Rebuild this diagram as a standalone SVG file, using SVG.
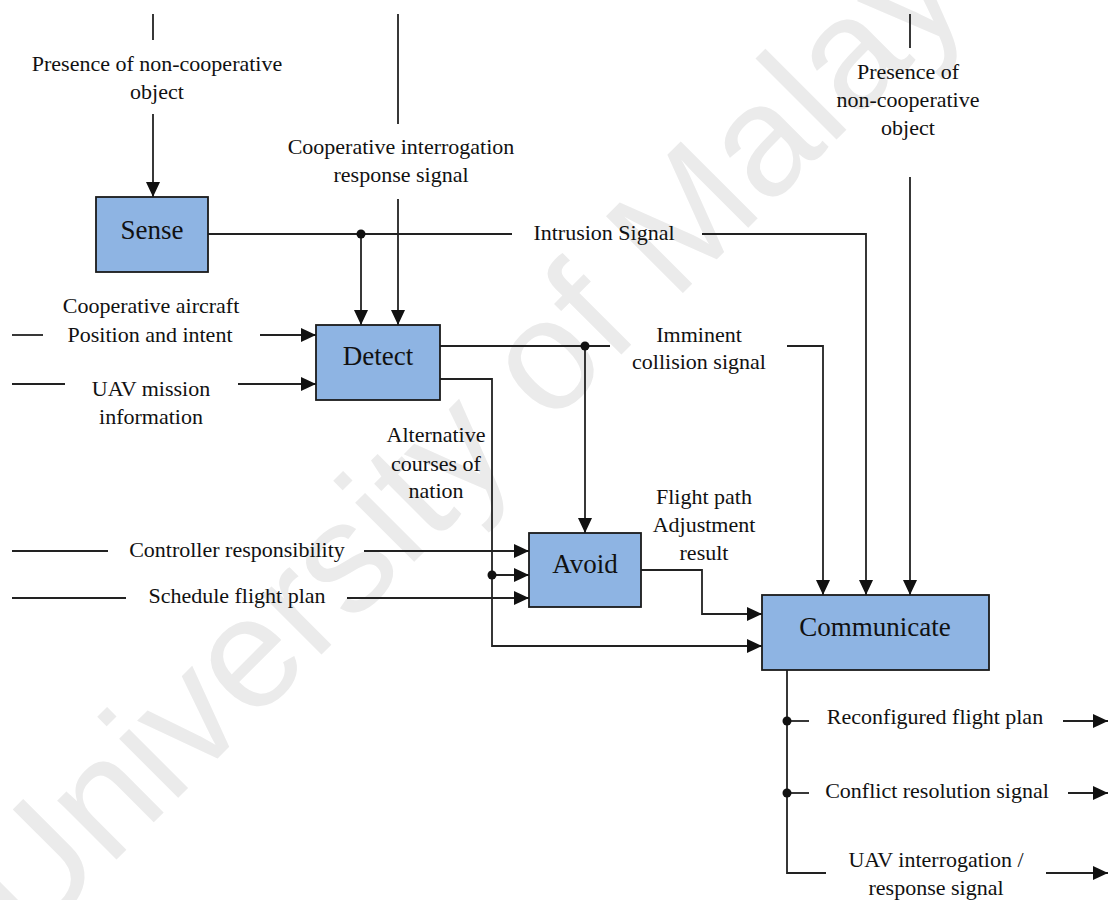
<svg xmlns="http://www.w3.org/2000/svg" width="1114" height="900" viewBox="0 0 1114 900">
  <defs>
    <marker id="arrow" markerUnits="userSpaceOnUse" markerWidth="15" markerHeight="14" refX="15" refY="7" orient="auto">
      <path d="M0,0 L15,7 L0,14 Z" fill="#111"/>
    </marker>
  </defs>
  <style>
    .bg { fill: #ffffff; }
    .wm { font-family: "Liberation Sans", Arial, sans-serif; font-size: 158px; fill: #ebebeb; }
    .box { fill: #8eb4e3; stroke: #1a1a1a; stroke-width: 1.8; }
    .title { font-family: "Liberation Serif", "Times New Roman", serif; font-size: 27px; fill: #111; text-anchor: middle; }
    .lbl { font-family: "Liberation Serif", "Times New Roman", serif; font-size: 22px; fill: #111; text-anchor: middle; }
    .ln { fill: none; stroke: #222; stroke-width: 1.8; }
    .arr { marker-end: url(#arrow); }
    .dot { fill: #111; }
  </style>

  <rect class="bg" x="0" y="0" width="1114" height="900"/>

  <!-- faint background watermark -->
  <text class="wm" x="28" y="948" transform="rotate(-45 28 948)">University of Malaya</text>

  <!-- connectors -->
  <g id="connectors">
    <!-- non-cooperative object into Sense -->
    <path class="ln" d="M153,14 V40"/>
    <path class="ln arr" d="M153,114 V197"/>
    <!-- cooperative interrogation response into Detect -->
    <path class="ln" d="M398,14 V124"/>
    <path class="ln arr" d="M398,199 V325"/>
    <!-- intrusion signal -->
    <path class="ln" d="M208,234 H512"/>
    <path class="ln arr" d="M361,234 V325"/>
    <path class="ln arr" d="M702,234 H866 V595"/>
    <circle class="dot" cx="361" cy="234" r="4.5"/>
    <!-- non-cooperative object into Communicate -->
    <path class="ln" d="M910,14 V48"/>
    <path class="ln arr" d="M910,177 V595"/>
    <!-- inputs to Detect -->
    <path class="ln" d="M12,335 H43"/>
    <path class="ln arr" d="M260,335 H316"/>
    <path class="ln" d="M12,384 H65"/>
    <path class="ln arr" d="M238,384 H316"/>
    <!-- imminent collision signal -->
    <path class="ln" d="M440,346 H610"/>
    <path class="ln arr" d="M585,346 V533"/>
    <path class="ln arr" d="M787,346 H823 V595"/>
    <circle class="dot" cx="585" cy="346" r="4.5"/>
    <!-- alternative courses of action -->
    <path class="ln arr" d="M440,379 H492 V646 H762"/>
    <path class="ln arr" d="M492,575 H529"/>
    <circle class="dot" cx="492" cy="575" r="4.5"/>
    <!-- inputs to Avoid -->
    <path class="ln" d="M12,551 H108"/>
    <path class="ln arr" d="M364,551 H529"/>
    <path class="ln" d="M12,598 H126"/>
    <path class="ln arr" d="M347,598 H529"/>
    <!-- flight path adjustment result -->
    <path class="ln arr" d="M641,570 H702 V614 H762"/>
    <!-- outputs of Communicate -->
    <path class="ln" d="M787,670 V873 H826"/>
    <path class="ln" d="M787,721 H809"/>
    <path class="ln" d="M787,793 H809"/>
    <circle class="dot" cx="787" cy="721" r="4.5"/>
    <circle class="dot" cx="787" cy="793" r="4.5"/>
    <path class="ln arr" d="M1063,721 H1108"/>
    <path class="ln arr" d="M1068,793 H1108"/>
    <path class="ln arr" d="M1046,873 H1108"/>
  </g>

  <!-- connector labels -->
  <g id="labels">
    <text class="lbl" x="157" y="71">Presence of non-cooperative</text>
    <text class="lbl" x="157" y="99">object</text>
    <text class="lbl" x="401" y="154">Cooperative interrogation</text>
    <text class="lbl" x="401" y="182">response signal</text>
    <text class="lbl" x="604" y="240">Intrusion Signal</text>
    <text class="lbl" x="908" y="79">Presence of</text>
    <text class="lbl" x="908" y="107">non-cooperative</text>
    <text class="lbl" x="908" y="135">object</text>
    <text class="lbl" x="151" y="313">Cooperative aircraft</text>
    <text class="lbl" x="150" y="342">Position and intent</text>
    <text class="lbl" x="151" y="396">UAV mission</text>
    <text class="lbl" x="151" y="424">information</text>
    <text class="lbl" x="699" y="342">Imminent</text>
    <text class="lbl" x="699" y="369">collision signal</text>
    <text class="lbl" x="436" y="442">Alternative</text>
    <text class="lbl" x="436" y="471">courses of</text>
    <text class="lbl" x="436" y="498">nation</text>
    <text class="lbl" x="704" y="504">Flight path</text>
    <text class="lbl" x="704" y="532">Adjustment</text>
    <text class="lbl" x="704" y="560">result</text>
    <text class="lbl" x="237" y="557">Controller responsibility</text>
    <text class="lbl" x="237" y="603">Schedule flight plan</text>
    <text class="lbl" x="935" y="724">Reconfigured flight plan</text>
    <text class="lbl" x="937" y="798">Conflict resolution signal</text>
    <text class="lbl" x="936" y="867">UAV interrogation /</text>
    <text class="lbl" x="936" y="895">response signal</text>
  </g>

  <!-- function blocks -->
  <g id="sense">
    <rect class="box" x="96" y="197" width="112" height="75"/>
    <text class="title" x="152" y="239">Sense</text>
  </g>
  <g id="detect">
    <rect class="box" x="316" y="325" width="124" height="75"/>
    <text class="title" x="378" y="365">Detect</text>
  </g>
  <g id="avoid">
    <rect class="box" x="529" y="533" width="112" height="74"/>
    <text class="title" x="585" y="573">Avoid</text>
  </g>
  <g id="communicate">
    <rect class="box" x="762" y="595" width="227" height="75"/>
    <text class="title" x="875" y="636">Communicate</text>
  </g>
</svg>
